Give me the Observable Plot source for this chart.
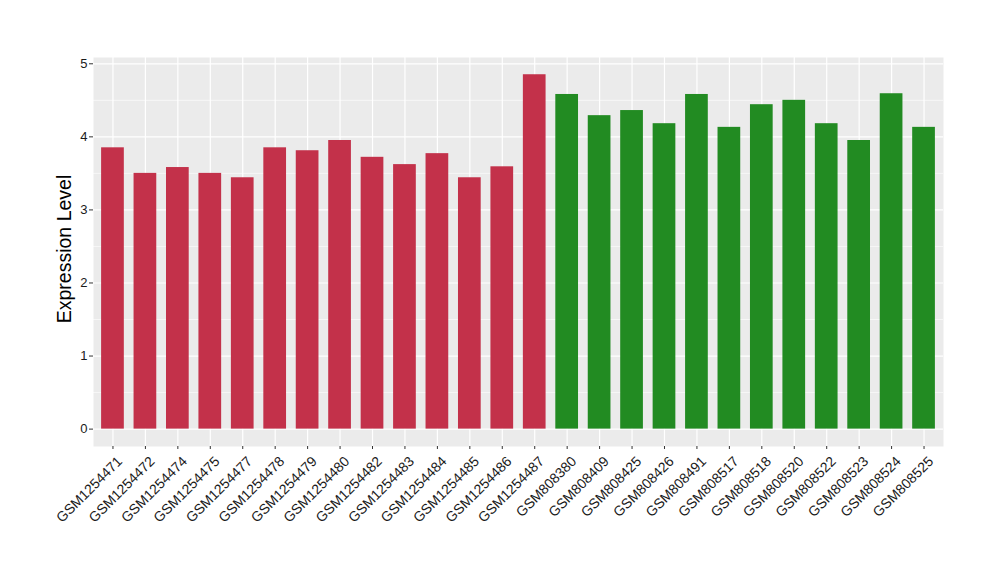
<!DOCTYPE html>
<html><head><meta charset="utf-8">
<script src="https://cdn.jsdelivr.net/npm/d3@7"></script>
<script src="https://cdn.jsdelivr.net/npm/@observablehq/plot@0.6"></script>
<style>body{margin:0;background:#fff;}</style>
</head><body><div id="chart"></div>
<script>
const samples = ["GSM1254471","GSM1254472","GSM1254474","GSM1254475","GSM1254477","GSM1254478","GSM1254479","GSM1254480","GSM1254482","GSM1254483","GSM1254484","GSM1254485","GSM1254486","GSM1254487","GSM808380","GSM808409","GSM808425","GSM808426","GSM808491","GSM808517","GSM808518","GSM808520","GSM808522","GSM808523","GSM808524","GSM808525"];
const values = [3.85,3.50,3.58,3.50,3.44,3.85,3.81,3.95,3.72,3.62,3.77,3.44,3.59,4.85,4.58,4.29,4.36,4.18,4.58,4.13,4.44,4.50,4.18,3.95,4.59,4.13];
const groups = ["A","A","A","A","A","A","A","A","A","A","A","A","A","A","B","B","B","B","B","B","B","B","B","B","B","B"];
const groupNames = ["A","B"];
const groupColors = ["#C3314A","#228B22"];
const yTicks = [0,1,2,3,4,5];
const yMinorTicks = [0.5,1.5,2.5,3.5,4.5];
const yTitle = "Expression Level";

const data = samples.map((s,i)=>({sample:s, value:values[i], group:groups[i]}));
const chart = Plot.plot({
  width:1000, height:580,
  marginLeft:93, marginRight:57, marginTop:57, marginBottom:134,
  style:{fontFamily:"'Liberation Sans', Arial, sans-serif", background:"#fff", color:"#1a1a1a"},
  x:{type:"band", domain:samples, paddingInner:0.3, paddingOuter:0.25, round:false},
  y:{domain:[-0.238, 5.086]},
  color:{domain:groupNames, range:groupColors},
  marks:[
    Plot.frame({fill:"#EBEBEB", stroke:null}),
    Plot.ruleY(yMinorTicks, {y:d=>d, stroke:"#fff", strokeWidth:0.6}),
    Plot.ruleY(yTicks, {y:d=>d, stroke:"#fff", strokeWidth:1.2}),
    Plot.ruleX(samples, {x:d=>d, stroke:"#fff", strokeWidth:1.2}),
    Plot.barY(data, {x:"sample", y:"value", fill:"group"}),
    Plot.axisY({ticks:yTicks, tickFormat:d3.format("d"), tickSize:4, tickPadding:2, fontSize:13, label:null, stroke:"#333"}),
    Plot.axisX({tickSize:3, tickFormat:()=>"", label:null, stroke:"#333"}),
    Plot.axisX({tickSize:0, tickRotate:-45, fontSize:14, label:null, textAnchor:"end", lineAnchor:"middle", tickPadding:12.5, dx:7}),
    Plot.text([yTitle], {text:d=>d, frameAnchor:"left", textAnchor:"middle", rotate:-90, dx:-28.5, dy:-3, fontSize:19.5, fill:"#000"})
  ]
});
document.getElementById("chart").append(chart);
</script>
</body></html>
